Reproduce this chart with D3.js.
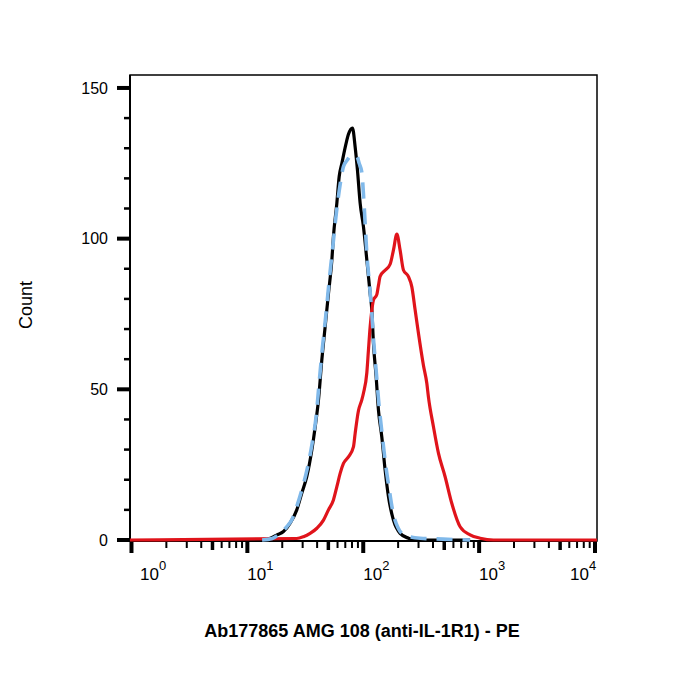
<!DOCTYPE html>
<html>
<head>
<meta charset="utf-8">
<script src="https://cdn.jsdelivr.net/npm/d3@7"></script>
<style>
  body { margin: 0; background: #fff; }
  svg text { font-family: "Liberation Sans", Arial, sans-serif; }
</style>
</head>
<body>
<svg id="chart" width="700" height="700"></svg>
<script>
// isotype control (black)
var blackX = [10.6, 14.2, 16.0, 18.0, 20.5, 23.4, 26.7, 29.5, 32.6, 36.0, 38.5, 41.1, 43.9, 46.9, 50.1, 53.6, 55.3, 59.2, 62.0, 65.4, 71.2, 74.5, 80.7, 85.1, 89.1, 94.0, 100.4, 107.4, 114.7, 118.6, 122.5, 129.2, 135.3, 144.7, 154.5, 165.0, 182.2, 208.0, 245.5, 290, 836];
var blackY = [0, 0, 0.7, 1.7, 2.8, 5.6, 10.0, 15.6, 21.1, 29.9, 37.6, 46.5, 59.7, 70.7, 81.8, 92.9, 100.7, 111.8, 120.6, 125.0, 131.7, 134.6, 136.7, 130.5, 122.8, 111.8, 104.0, 92.9, 81.8, 76.3, 65.2, 54.2, 43.1, 34.1, 23.2, 14.4, 6.6, 2.2, 0.6, 0, 0];

// unstained control (blue dashed)
var blueX = [13.4, 16.4, 19.9, 21.9, 24.4, 26.9, 29.7, 32.8, 36.2, 39.2, 41.6, 44.2, 47.4, 50.8, 54.5, 58.4, 63.2, 67.5, 72.6, 78.6, 88.1, 92.2, 97.2, 101.8, 107.4, 113.1, 118.2, 123.0, 130.0, 136.6, 145.6, 156.0, 167.3, 181.1, 200.0, 229.9, 309.7, 489, 836];
var blueY = [0, 0.5, 2.8, 4.4, 7, 11.5, 17, 23.5, 32, 41, 52, 63, 74, 86, 97, 108, 118, 123.9, 126, 127.5, 127.3, 125, 122, 111, 95, 85, 76, 66, 55, 45, 35, 25, 17, 9, 4, 1.5, 0.6, 0.3, 0];

// Ab177865 stained (red)
var redX = [0.97, 26.7, 30.5, 34.8, 39.8, 45.4, 50.1, 55.3, 59.2, 63.2, 67.5, 74.5, 82.3, 85.1, 90.9, 97.2, 100.4, 107.4, 110.9, 114.7, 118.6, 122.5, 131.1, 135.3, 139.9, 154.5, 170.6, 182.2, 195, 208.0, 222.2, 245.5, 262.6, 280.5, 299.5, 330.6, 353.7, 365.1, 403.5, 445.6, 508.8, 581.5, 685.5, 836, 1020, 1329, 10400];
var redY = [0, 0.5, 1.1, 2.2, 3.9, 6.6, 10.0, 13.3, 17.7, 22.1, 25.4, 27.6, 30.9, 35.3, 42.9, 46.5, 48.7, 55.5, 63.0, 70.7, 76.2, 79.6, 81.5, 84.5, 87.5, 89.5, 91.5, 96.2, 101.5, 96.2, 89.6, 87.4, 84.0, 76.3, 68.6, 58.0, 52.0, 47.5, 37.6, 28.8, 21.0, 12.1, 4.4, 1.7, 0.6, 0, 0];

var yTicks = [0, 50, 100, 150];
var xDecades = [1, 10, 100, 1000, 10000];
var xTitle = "Ab177865 AMG 108 (anti-IL-1R1) - PE";
var yTitle = "Count";

var svg = d3.select("#chart");
var pLeft = 130, pRight = 597, pTop = 75, pBottom = 541;

var x = d3.scaleLog().domain([0.971, 10405]).range([pLeft, pRight]);
var y = d3.scaleLinear().domain([0, 154.3]).range([540, pTop]);

// frame
svg.append("rect")
    .attr("x", pLeft).attr("y", pTop)
    .attr("width", pRight - pLeft).attr("height", pBottom - pTop)
    .attr("fill", "none").attr("stroke", "#000").attr("stroke-width", 1.5);
svg.append("line").attr("x1", pLeft).attr("x2", pLeft).attr("y1", pTop).attr("y2", pBottom + 1)
    .attr("stroke", "#000").attr("stroke-width", 2);
svg.append("line").attr("x1", pLeft).attr("x2", pRight).attr("y1", pBottom).attr("y2", pBottom)
    .attr("stroke", "#000").attr("stroke-width", 2);

// y ticks
var yMinor = d3.range(0, 151, 10).filter(function (v) { return yTicks.indexOf(v) < 0; });
svg.selectAll(".ymin").data(yMinor).enter().append("line")
    .attr("x1", pLeft - 6).attr("x2", pLeft)
    .attr("y1", function (d) { return y(d); }).attr("y2", function (d) { return y(d); })
    .attr("stroke", "#000").attr("stroke-width", 2.5);
svg.selectAll(".ymaj").data(yTicks).enter().append("line")
    .attr("x1", pLeft - 13).attr("x2", pLeft)
    .attr("y1", function (d) { return y(d); }).attr("y2", function (d) { return y(d); })
    .attr("stroke", "#000").attr("stroke-width", 4);
svg.selectAll(".ylab").data(yTicks).enter().append("text")
    .attr("x", 108).attr("y", function (d) { return y(d); })
    .attr("dy", "0.35em").attr("text-anchor", "end")
    .attr("font-size", 16).text(function (d) { return d; });

// x ticks (log)
var xMinor = [];
xDecades.slice(0, -1).forEach(function (dec) {
    for (var k = 2; k <= 9; k++) xMinor.push(dec * k);
});
svg.selectAll(".xmin").data(xMinor).enter().append("line")
    .attr("x1", function (d) { return x(d); }).attr("x2", function (d) { return x(d); })
    .attr("y1", pBottom).attr("y2", function (d) { return String(d)[0] == "5" ? pBottom + 9 : pBottom + 7; })
    .attr("stroke", "#000").attr("stroke-width", function (d) { return String(d)[0] == "5" ? 3.5 : 2; });
svg.selectAll(".xmaj").data(xDecades).enter().append("line")
    .attr("x1", function (d) { return x(d); }).attr("x2", function (d) { return x(d); })
    .attr("y1", pBottom).attr("y2", pBottom + 12)
    .attr("stroke", "#000").attr("stroke-width", 4);
var xl = svg.selectAll(".xlab").data(xDecades).enter().append("text")
    .attr("x", function (d) { return Math.min(Math.max(x(d), 140), 570); })
    .attr("y", 580).attr("font-size", 17);
xl.append("tspan").text("10");
xl.append("tspan").attr("font-size", 13).attr("dy", -10)
    .text(function (d) { return Math.round(Math.log10(d)); });

// curves
function series(xs, ys) {
    return xs.map(function (v, i) { return [v, ys[i]]; });
}
var line = d3.line()
    .x(function (d) { return x(d[0]); })
    .y(function (d) { return y(d[1]); })
    .curve(d3.curveMonotoneX);

svg.append("path").datum(series(blackX, blackY)).attr("d", line)
    .attr("fill", "none").attr("stroke", "#000").attr("stroke-width", 3.2)
    .attr("stroke-linejoin", "round");
svg.append("path").datum(series(redX, redY)).attr("d", line)
    .attr("fill", "none").attr("stroke", "#e0141b").attr("stroke-width", 3.2)
    .attr("stroke-linejoin", "round");
svg.append("path").datum(series(blueX, blueY)).attr("d", line)
    .attr("fill", "none").attr("stroke", "#80b9ea").attr("stroke-width", 3.6)
    .attr("stroke-dasharray", "16,10");

// titles
svg.append("text").attr("x", 362).attr("y", 637).attr("text-anchor", "middle")
    .attr("font-size", 18).attr("font-weight", "bold").text(xTitle);
svg.append("text").attr("transform", "translate(32,305) rotate(-90)")
    .attr("text-anchor", "middle").attr("font-size", 18).text(yTitle);
</script>
</body>
</html>
